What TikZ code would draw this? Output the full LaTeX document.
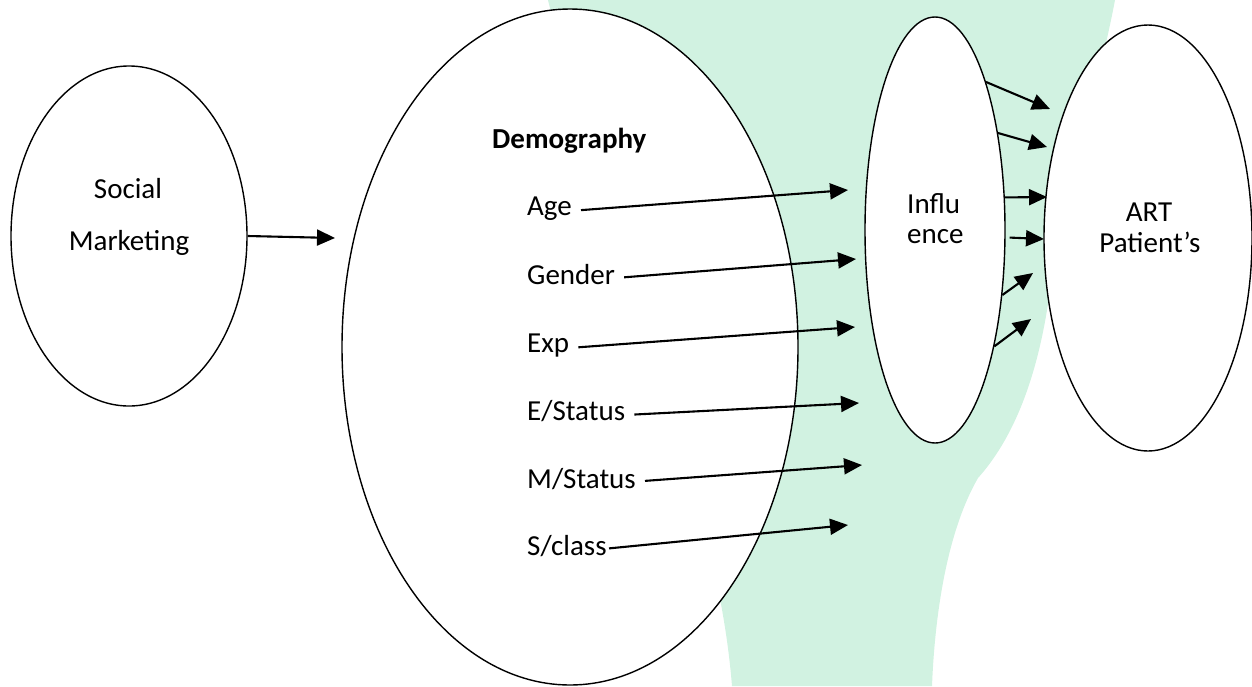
\documentclass[tikz,border=0pt]{standalone}
\usepackage{fontspec}
\setmainfont{Carlito}
\usetikzlibrary{shapes.geometric,arrows.meta}
\definecolor{wm}{RGB}{209,242,225}
\begin{document}
\begin{tikzpicture}[x=1pt,y=-1pt,
  oval/.style={draw, ellipse, fill=white, line width=1.4pt, inner sep=0pt},
  lbl/.style={font=\fontsize{29}{35}\selectfont, inner sep=0pt},
  item/.style={font=\fontsize{29}{35}\selectfont, anchor=base west, text height=0.7em, text depth=0.2em, inner xsep=9pt, inner ysep=0pt},
  link/.style={line width=2.1pt, -{Triangle[length=18pt,width=16pt]}}
]
\useasboundingbox (0,0) rectangle (1252,686);
% watermark
\fill[wm] (548,0) -- (1115,0) .. controls (1098,90) and (1065,190) .. (1050,290)
  .. controls (1038,380) and (1012,440) .. (978,478)
  .. controls (948,530) and (935,610) .. (932,686) -- (732,686)
  .. controls (725,600) and (700,480) .. (640,380) -- cycle;

% ellipses
\node[oval, minimum width=236pt, minimum height=340pt] (sm) at (129,236) {};
\node[oval, minimum width=456pt, minimum height=676pt] (demo) at (570,347) {};
\node[oval, minimum width=140pt, minimum height=426pt] (infl) at (935,230) {};
\node[oval, minimum width=208pt, minimum height=426pt] (art) at (1148,238) {};

% texts
\node[lbl, anchor=base] (social) at (128,198) {Social};
\node[lbl, anchor=base] (marketing) at (129,250) {Marketing};
\node[lbl, anchor=base west, font=\fontsize{29}{35}\selectfont\bfseries] (demotitle) at (492,148) {Demography};
\node[lbl, anchor=base west] (influ) at (907,213) {Influ};
\node[lbl, anchor=base west] (ence) at (907,243) {ence};
\node[lbl, anchor=base] (artt) at (1149,221) {ART};
\node[lbl, anchor=base] (patient) at (1150,252) {Patient’s};

\node[item] (age) at (518,215) {Age};
\node[item] (gender) at (518,284) {Gender};
\node[item] (exp) at (518,352) {Exp};
\node[item] (estat) at (518,420) {E/Status};
\node[item] (mstat) at (518,488) {M/Status};
\node[item] (sclass) at (518,555) {S/class};

% free ends
\coordinate (smend) at (335,238);
\coordinate (ageend) at (848,190);
\coordinate (genderend) at (856,259);
\coordinate (expend) at (855,327);
\coordinate (estatend) at (859,403);
\coordinate (mstatend) at (862,465);
\coordinate (sclassend) at (848,525);
\coordinate (r1) at (1050,109);
\coordinate (r2) at (1047,147);
\coordinate (r3) at (1047,197);
\coordinate (r4) at (1044,239);
\coordinate (r5) at (1033,273);
\coordinate (r6) at (1031,319);

% connectors
\draw[link] (sm.east) -- (smend);
\draw[link] (age) -- (ageend);
\draw[link] (gender) -- (genderend);
\draw[link] (exp) -- (expend);
\draw[link] (estat) -- (estatend);
\draw[link] (mstat) -- (mstatend);
\draw[link, shorten <=-6pt] (sclass) -- (sclassend);

\draw[link] (infl.71.45) -- (r1);
\draw[link] (infl.57.8) -- (r2);
\draw[link] (infl.25.6) -- (r3);
\draw[link, shorten <=4pt] (infl.-6) -- (r4);
\draw[link] (infl.-44) -- (r5);
\draw[link] (infl.-63) -- (r6);
\end{tikzpicture}
\end{document}
